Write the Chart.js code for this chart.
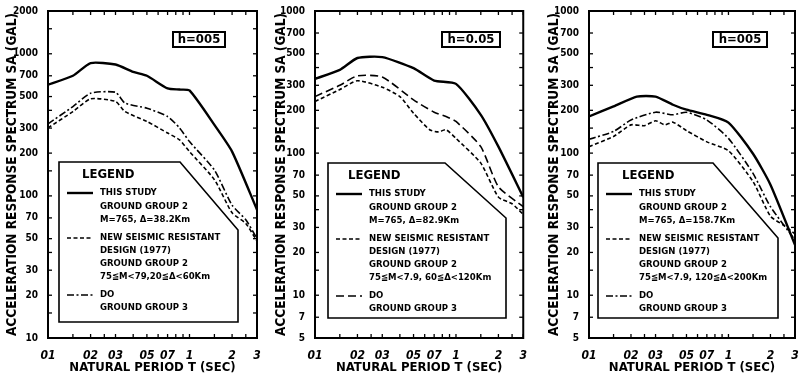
<!DOCTYPE html>
<html>
<head>
<meta charset="utf-8">
<script src="https://cdn.jsdelivr.net/npm/chart.js@4"></script>
<style>
  body { margin: 0; background: #fff; width: 802px; height: 376px; overflow: hidden; position: relative; }
  canvas { position: absolute; top: 0; }
</style>
</head>
<body>
<canvas id="c1" width="265" height="376" style="left:0"></canvas>
<canvas id="c2" width="265" height="376" style="left:265px"></canvas>
<canvas id="c3" width="272" height="376" style="left:530px"></canvas>
<script>
// axis ticks
const xTicks = [0.1, 0.2, 0.3, 0.5, 0.7, 1, 2, 3];
const xTickLabels = ['01', '02', '03', '05', '07', '1', '2', '3'];
const xMinor = [0.1, 0.15, 0.2, 0.25, 0.3, 0.4, 0.5, 0.6, 0.7, 0.8, 0.9, 1, 1.5, 2, 2.5, 3];
const yTicks1 = [10, 20, 30, 50, 70, 100, 200, 300, 500, 700, 1000, 2000];
const yTicks23 = [5, 7, 10, 20, 30, 50, 70, 100, 200, 300, 500, 700, 1000];
const yMinorMult = [1, 1.5, 2, 3, 4, 5, 7];

// panel 1 (delta = 38.2 km)
const p1StudyT = [0.1, 0.15, 0.2, 0.3, 0.4, 0.5, 0.7, 0.85, 1, 1.5, 2, 3];
const p1StudySa = [605, 700, 860, 840, 745, 700, 570, 560, 552, 316, 205, 80];
const p1DoT = [0.1, 0.15, 0.2, 0.3, 0.35, 0.5, 0.7, 0.85, 1, 1.5, 2, 2.5, 3];
const p1DoSa = [321, 425, 528, 536, 450, 414, 362, 301, 241, 152, 86, 68, 50];
const p1NewT = [0.1, 0.15, 0.2, 0.3, 0.35, 0.5, 0.7, 0.85, 1, 1.5, 2, 2.5, 3];
const p1NewSa = [301, 392, 482, 462, 392, 334, 277, 248, 205, 130, 76, 64, 48];

// panel 2 (delta = 82.9 km)
const p2StudyT = [0.1, 0.15, 0.2, 0.3, 0.5, 0.7, 1, 1.5, 2, 3];
const p2StudySa = [333, 385, 467, 474, 396, 324, 307, 186, 111, 49];
const p2DoT = [0.1, 0.15, 0.2, 0.3, 0.5, 0.7, 0.85, 1, 1.5, 2, 3];
const p2DoSa = [250, 300, 350, 343, 237, 194, 181, 167, 111, 58, 42];
const p2NewT = [0.1, 0.15, 0.2, 0.3, 0.4, 0.5, 0.65, 0.75, 0.85, 1, 1.5, 2, 2.5, 3];
const p2NewSa = [231, 280, 323, 291, 250, 191, 146, 141, 146, 127, 85, 49, 44, 37];

// panel 3 (delta = 158.7 km)
const p3StudyT = [0.1, 0.15, 0.22, 0.3, 0.4, 0.5, 0.7, 1, 1.5, 2, 3];
const p3StudySa = [181, 213, 250, 250, 219, 202, 186, 164, 99, 60, 22.6];
const p3DoT = [0.1, 0.15, 0.2, 0.3, 0.4, 0.5, 0.7, 1, 1.5, 2, 3];
const p3DoSa = [125, 142, 171, 194, 186, 194, 171, 127, 72, 42, 24.5];
const p3NewT = [0.1, 0.15, 0.2, 0.25, 0.3, 0.35, 0.4, 0.5, 0.7, 1, 1.5, 2, 2.5, 3];
const p3NewSa = [111, 131, 158, 156, 169, 158, 165, 144, 120, 104, 63, 36, 31, 27];

const FONT = "'Liberation Sans Narrow','DejaVu Sans Condensed','Liberation Sans',sans-serif";
const SOLID = [];
const SHORT = [4, 2.5];
const DASHDOT = [7, 2.5, 2, 2.5];
const LONG = [8, 4];

const pts = (t, v) => t.map((x, i) => ({ x: x, y: v[i] }));

const framePlugin = {
  id: 'frame',
  afterDatasetsDraw(chart, args, o) {
    const { ctx, chartArea: a, scales: { x, y } } = chart;
    ctx.save();
    ctx.strokeStyle = '#000';
    ctx.fillStyle = '#000';
    ctx.setLineDash([]);
    const seg = (x1, y1, x2, y2) => { ctx.beginPath(); ctx.moveTo(x1, y1); ctx.lineTo(x2, y2); ctx.stroke(); };

    // inward ticks on all four sides
    ctx.lineWidth = 1.3;
    xMinor.forEach(v => {
      const px = x.getPixelForValue(v);
      seg(px, a.bottom, px, a.bottom - 4);
      seg(px, a.top, px, a.top + 4);
    });
    for (let d = 1; d <= 1000; d *= 10) {
      yMinorMult.forEach(m => {
        const v = m * d;
        if (v < y.min || v > y.max) return;
        const py = y.getPixelForValue(v);
        seg(a.left, py, a.left + 4, py);
        seg(a.right, py, a.right - 4, py);
      });
    }
    ctx.lineWidth = 2;
    ctx.strokeRect(a.left, a.top, a.width, a.height);

    // h box
    const h = o.hBox;
    ctx.lineWidth = 2;
    ctx.fillStyle = '#fff';
    ctx.fillRect(a.left + h.x, a.top + h.y, h.w, 15);
    ctx.strokeRect(a.left + h.x, a.top + h.y, h.w, 15);
    ctx.fillStyle = '#000';
    ctx.font = 'bold 13px ' + FONT;
    ctx.textAlign = 'center';
    ctx.textBaseline = 'middle';
    ctx.fillText(o.hText, a.left + h.x + h.w / 2, a.top + h.y + 8);

    // legend box with cut corner
    const b = o.box;
    const L = a.left + b.left, T = a.top + b.top;
    ctx.beginPath();
    ctx.moveTo(L, T);
    ctx.lineTo(a.left + b.corner, T);
    ctx.lineTo(a.left + b.right, a.top + b.cut);
    ctx.lineTo(a.left + b.right, a.top + b.bottom);
    ctx.lineTo(L, a.top + b.bottom);
    ctx.closePath();
    ctx.fillStyle = '#fff';
    ctx.fill();
    ctx.lineWidth = 1.6;
    ctx.stroke();

    ctx.fillStyle = '#000';
    ctx.textAlign = 'left';
    ctx.font = 'bold 13px ' + FONT;
    ctx.fillText('LEGEND', L + b.title, T + 13);
    ctx.font = 'bold 9.5px ' + FONT;
    const rows = [31, 45, 58, 76, 89, 102, 115, 133, 146];
    let r = 0;
    o.items.forEach(it => {
      ctx.setLineDash(it.dash);
      ctx.lineWidth = it.width;
      seg(L + 8, T + rows[r], L + 34, T + rows[r]);
      ctx.setLineDash([]);
      it.lines.forEach(s => { ctx.fillText(s, L + 41, T + rows[r]); r++; });
    });
    ctx.restore();
  }
};

function makePanel(id, cfg) {
  const ds = (label, t, v, dash, w) => ({
    label: label, data: pts(t, v), borderColor: '#000', borderWidth: w,
    borderDash: dash, pointRadius: 0, fill: false, tension: 0.2
  });
  return new Chart(document.getElementById(id), {
    type: 'line',
    data: {
      datasets: [
        ds('THIS STUDY', cfg.study[0], cfg.study[1], SOLID, 2.4),
        ds('NEW SEISMIC RESISTANT DESIGN (1977)', cfg.nw[0], cfg.nw[1], SHORT, 1.6),
        ds('DO', cfg.doo[0], cfg.doo[1], cfg.doDash, 1.6)
      ]
    },
    options: {
      responsive: false,
      animation: false,
      layout: { padding: { left: 0, right: cfg.padRight, top: 11, bottom: 0 } },
      plugins: {
        legend: { display: false },
        tooltip: { enabled: false },
        frame: cfg.frame
      },
      scales: {
        x: {
          type: 'logarithmic', min: 0.1, max: 3,
          afterBuildTicks: s => { s.ticks = xTicks.map(v => ({ value: v })); },
          afterFit: s => { s.height = 38; },
          grid: { display: false },
          border: { display: false },
          ticks: {
            color: '#000', padding: 3, maxRotation: 0, autoSkip: false,
            font: { family: FONT, size: 12, weight: 'bold', style: 'italic' },
            callback: (v, i) => xTickLabels[i]
          },
          title: {
            display: true, text: 'NATURAL PERIOD T (SEC)', color: '#000',
            font: { family: FONT, size: 13, weight: 'bold' },
            padding: { top: 0, bottom: 1 }
          }
        },
        y: {
          type: 'logarithmic', min: cfg.yTicks[0], max: cfg.yTicks[cfg.yTicks.length - 1],
          afterBuildTicks: s => { s.ticks = cfg.yTicks.map(v => ({ value: v })); },
          afterFit: s => { s.width = cfg.yWidth; },
          grid: { display: false },
          border: { display: false },
          ticks: {
            color: '#000', padding: 2, autoSkip: false,
            font: { family: FONT, size: 10, weight: 'bold' },
            callback: v => String(v)
          },
          title: {
            display: true, text: 'ACCELERATION RESPONSE SPECTRUM SA (GAL)', color: '#000',
            font: { family: FONT, size: 13.5, weight: 'bold' },
            padding: { top: cfg.titlePad, bottom: 0 }
          }
        }
      }
    },
    plugins: [framePlugin]
  });
}

makePanel('c1', {
  study: [p1StudyT, p1StudySa], nw: [p1NewT, p1NewSa], doo: [p1DoT, p1DoSa], doDash: DASHDOT,
  yTicks: yTicks1, yWidth: 48, padRight: 8, titlePad: 4,
  frame: {
    hText: 'h=005', hBox: { x: 125, y: 21, w: 52 },
    box: { left: 11, top: 151, corner: 132, right: 190, cut: 219, bottom: 311, title: 23 },
    items: [
      { dash: SOLID, width: 2.4, lines: ['THIS STUDY', 'GROUND GROUP 2', 'M=765, Δ=38.2Km'] },
      { dash: SHORT, width: 1.6, lines: ['NEW SEISMIC RESISTANT', 'DESIGN (1977)', 'GROUND GROUP 2', '75≦M<79,20≦Δ<60Km'] },
      { dash: DASHDOT, width: 1.6, lines: ['DO', 'GROUND GROUP 3'] }
    ]
  }
});

makePanel('c2', {
  study: [p2StudyT, p2StudySa], nw: [p2NewT, p2NewSa], doo: [p2DoT, p2DoSa], doDash: LONG,
  yTicks: yTicks23, yWidth: 50, padRight: 3, titlePad: 8,
  frame: {
    hText: 'h=0.05', hBox: { x: 127, y: 21, w: 58 },
    box: { left: 13, top: 152, corner: 130, right: 191, cut: 207, bottom: 307, title: 20 },
    items: [
      { dash: SOLID, width: 2.4, lines: ['THIS STUDY', 'GROUND GROUP 2', 'M=765, Δ=82.9Km'] },
      { dash: SHORT, width: 1.6, lines: ['NEW SEISMIC RESISTANT', 'DESIGN (1977)', 'GROUND GROUP 2', '75≦M<7.9, 60≦Δ<120Km'] },
      { dash: LONG, width: 1.6, lines: ['DO', 'GROUND GROUP 3'] }
    ]
  }
});

makePanel('c3', {
  study: [p3StudyT, p3StudySa], nw: [p3NewT, p3NewSa], doo: [p3DoT, p3DoSa], doDash: DASHDOT,
  yTicks: yTicks23, yWidth: 59, padRight: 7, titlePad: 16,
  frame: {
    hText: 'h=005', hBox: { x: 124, y: 21, w: 54 },
    box: { left: 9, top: 152, corner: 124, right: 189, cut: 227, bottom: 307, title: 24 },
    items: [
      { dash: SOLID, width: 2.4, lines: ['THIS STUDY', 'GROUND GROUP 2', 'M=765, Δ=158.7Km'] },
      { dash: SHORT, width: 1.6, lines: ['NEW SEISMIC RESISTANT', 'DESIGN (1977)', 'GROUND GROUP 2', '75≦M<7.9, 120≦Δ<200Km'] },
      { dash: DASHDOT, width: 1.6, lines: ['DO', 'GROUND GROUP 3'] }
    ]
  }
});
</script>
</body>
</html>
